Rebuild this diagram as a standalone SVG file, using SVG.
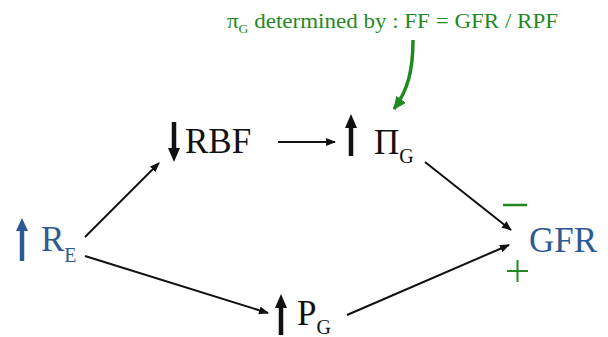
<svg xmlns="http://www.w3.org/2000/svg" width="608" height="337" viewBox="0 0 608 337" font-family="'Liberation Serif', 'Times New Roman', Tinos, 'DejaVu Serif', serif">
<style>
text{font-family:"Liberation Serif","Times New Roman",Tinos,"DejaVu Serif",serif}
.big{font-size:35px}
.sub{font-size:20px}
.blk{fill:#111}
.blue{fill:#2e5a94}
.grn{fill:#1f8a1f}
.conn{stroke:#111;stroke-width:2;fill:none;marker-end:url(#ah)}
.thick{stroke-width:4.5;fill:none}
</style>
<defs>
<marker id="ah" markerWidth="10" markerHeight="8" refX="9" refY="4" orient="auto" markerUnits="userSpaceOnUse">
<path d="M0,0 L10,4 L0,8 Z" fill="#111"/>
</marker>
<marker id="ahg" markerWidth="14" markerHeight="12" refX="12" refY="6" orient="auto" markerUnits="userSpaceOnUse">
<path d="M0,0 L13,6 L0,12 Z" fill="#1f8a1f"/>
</marker>
</defs>
<rect width="608" height="337" fill="#fff"/>
<g id="note">
<text x="227" y="28" class="grn" font-size="22" textLength="331" lengthAdjust="spacingAndGlyphs">π<tspan font-size="13" dy="5">G</tspan><tspan dy="-5"> determined by :  FF = GFR / RPF</tspan></text>
</g>
<g id="RE">
<path d="M22,261 V228" stroke="#2e5a94" class="thick"/>
<path d="M16,231 L22,218 L28,231 Z" fill="#2e5a94"/>
<text x="41" y="251" class="big blue">R<tspan class="sub" dy="11">E</tspan></text>
</g>
<g id="RBF">
<path d="M174,122 V150" stroke="#111" class="thick"/>
<path d="M168,148 L174,162 L180,148 Z" fill="#111"/>
<text x="185" y="153" class="big blk">RBF</text>
</g>
<g id="PiG">
<path d="M351,156 V126" stroke="#111" class="thick"/>
<path d="M345,128 L351,114 L357,128 Z" fill="#111"/>
<text x="374" y="154" class="big blk">Π<tspan class="sub" dy="9">G</tspan></text>
</g>
<g id="PG">
<path d="M281,335 V306" stroke="#111" class="thick"/>
<path d="M275,308 L281,294 L287,308 Z" fill="#111"/>
<text x="297" y="325" class="big blk">P<tspan class="sub" dy="9">G</tspan></text>
</g>
<g id="GFR">
<text x="529" y="252" class="big blue">GFR</text>
<path d="M503,205 H527" stroke="#1f8a1f" stroke-width="2.5"/>
<path d="M507,271 H528 M517.5,260 V282" stroke="#1f8a1f" stroke-width="2"/>
</g>
<g id="connectors">
<path class="conn" d="M85,237 L159,163"/>
<path class="conn" d="M85,256 L268,313"/>
<path class="conn" d="M278,142 L335,142"/>
<path class="conn" d="M425,162 L511,230"/>
<path class="conn" d="M347,315 L509,245"/>
<path d="M413,40 C413,70 408,90 394,109" stroke="#1f8a1f" stroke-width="3.5" fill="none" marker-end="url(#ahg)"/>
</g>
</svg>
